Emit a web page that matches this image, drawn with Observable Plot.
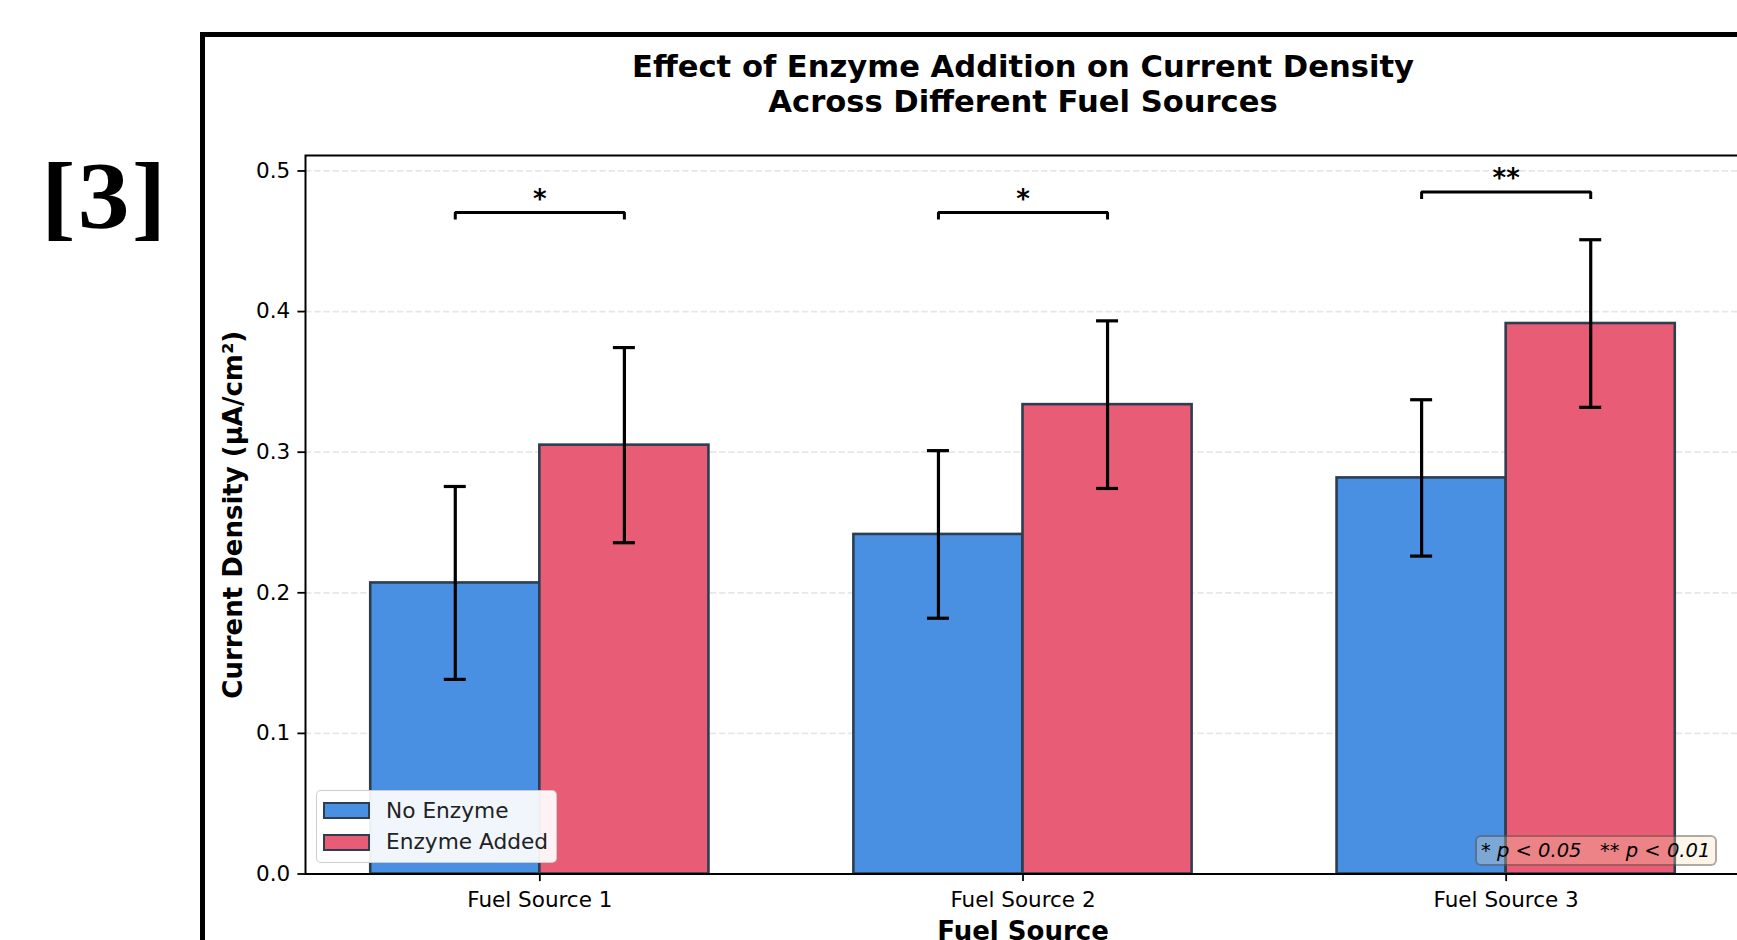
<!DOCTYPE html>
<html>
<head>
<meta charset="utf-8">
<script src="https://cdn.jsdelivr.net/npm/d3@7"></script>
<script src="https://cdn.jsdelivr.net/npm/@observablehq/plot@0.6"></script>
<style>
  html, body { margin: 0; padding: 0; background: #fff; overflow: hidden; width: 1737px; height: 940px; }
  #wrap { position: relative; width: 1737px; height: 940px; overflow: hidden; font-family: "DejaVu Sans", sans-serif; }
  #chart { position: absolute; left: 0; top: 0; }
  #outer { position: absolute; left: 200px; top: 32px; width: 2400px; height: 2400px; border: 5px solid #000; box-sizing: border-box; }
  #panel { position: absolute; left: 41px; top: 148px; font: bold 96px/1 "Liberation Serif", serif; letter-spacing: 2px; color: #000;
           transform: scaleX(1.08); transform-origin: 0 0; }
  #legend { position: absolute; left: 316px; top: 790px; width: 241px; height: 73px; box-sizing: border-box;
            background: rgba(255,255,255,0.92); border: 1.5px solid rgba(200,200,200,0.9); border-radius: 5px; }
  .sw { position: absolute; left: 6px; width: 47px; height: 17px; box-sizing: border-box; border: 2.6px solid #2C3E50; }
  .lb { position: absolute; left: 69px; font-size: 21.7px; line-height: 1; color: #222; white-space: nowrap; }
  #pbox { position: absolute; left: 1475px; top: 835px; width: 242px; height: 31px; box-sizing: border-box;
          background: rgba(245,222,179,0.3); border: 2px solid rgba(0,0,0,0.3); border-radius: 6px;
          font-style: italic; font-size: 19.5px; line-height: 27px; padding-left: 4px; white-space: pre; color: #000; }
</style>
</head>
<body>
<div id="wrap">
  <div id="chart"></div>
  <div id="outer"></div>
  <div id="panel">[3]</div>
  <div id="legend"></div>
  <div id="pbox"></div>
</div>
<script>
// ---- data ----
const categories = ["Fuel Source 1", "Fuel Source 2", "Fuel Source 3"];
const seriesNames = ["No Enzyme", "Enzyme Added"];
const seriesColors = ["#4A90E2", "#E85D75"];
const noEnzyme = [0.207, 0.2415, 0.2817];
const noEnzymeErr = [0.0686, 0.0596, 0.0556];
const enzymeAdded = [0.305, 0.3338, 0.3915];
const enzymeAddedErr = [0.0694, 0.0596, 0.0596];
const sigLabels = ["*", "*", "**"];
const sigHeights = [0.4705, 0.4705, 0.485];
const yTicks = [0.0, 0.1, 0.2, 0.3, 0.4, 0.5];
const titleText = "Effect of Enzyme Addition on Current Density\nAcross Different Fuel Sources";
const xLabel = "Fuel Source";
const yLabel = "Current Density (μA/cm²)";
const pText = "* p < 0.05   ** p < 0.01";

// ---- layout constants ----
const barWidth = 0.35;
const sigDrop = 0.005;

// ---- build tables ----
const rows = [];
categories.forEach((c, i) => {
  rows.push({cat: c, idx: i, series: seriesNames[0], value: noEnzyme[i], err: noEnzymeErr[i], x1: i - barWidth, x2: i});
  rows.push({cat: c, idx: i, series: seriesNames[1], value: enzymeAdded[i], err: enzymeAddedErr[i], x1: i, x2: i + barWidth});
});
rows.forEach(r => { r.xc = (r.x1 + r.x2) / 2; r.lo = r.value - r.err; r.hi = r.value + r.err; });

const brackets = [];
const sigRows = [];
categories.forEach((c, i) => {
  const h = sigHeights[i], a = i - barWidth / 2, b = i + barWidth / 2;
  brackets.push({g: i, x: a, y: h - sigDrop}, {g: i, x: a, y: h}, {g: i, x: b, y: h}, {g: i, x: b, y: h - sigDrop});
  sigRows.push({idx: i, h, label: sigLabels[i]});
});

const capStyle = {stroke: "#000", strokeWidth: 3.2, insetLeft: -11, insetRight: -11};

const chart = Plot.plot({
  width: 1745,
  height: 940,
  marginLeft: 305,
  marginRight: 5,
  marginTop: 155,
  marginBottom: 66.5,
  style: {fontFamily: '"DejaVu Sans", sans-serif', background: "transparent", maxWidth: "none", overflow: "visible", color: "#000"},
  x: {domain: [-0.485, 2.485]},
  y: {domain: [0, 0.511]},
  color: {domain: seriesNames, range: seriesColors},
  marks: [
    Plot.gridY(yTicks, {stroke: "#b0b0b0", strokeOpacity: 0.3, strokeWidth: 1.7, strokeDasharray: "6.4,2.8"}),
    Plot.rectY(rows, {x1: "x1", x2: "x2", y1: 0, y2: "value", fill: "series", stroke: "#2C3E50", strokeWidth: 2.6}),
    Plot.ruleX(rows, {x: "xc", y1: "lo", y2: "hi", stroke: "#000", strokeWidth: 3.2}),
    Plot.ruleY(rows, {x1: "xc", x2: "xc", y: "hi", ...capStyle}),
    Plot.ruleY(rows, {x1: "xc", x2: "xc", y: "lo", ...capStyle}),
    Plot.line(brackets, {x: "x", y: "y", z: "g", stroke: "#000", strokeWidth: 3, strokeLinejoin: "miter", strokeLinecap: "butt"}),
    Plot.text(sigRows, {x: "idx", y: "h", text: "label", dy: -13, fontSize: 26, fontWeight: "bold", lineAnchor: "middle"}),
    Plot.frame({stroke: "#000", strokeWidth: 2}),
    Plot.axisY(yTicks, {tickFormat: d3.format(".1f"), fontSize: 21.5, tickSize: 7.6, tickPadding: 7.6, strokeWidth: 1.8, label: null}),
    Plot.axisX([0, 1, 2], {tickFormat: i => categories[i], fontSize: 21.5, tickSize: 7.6, tickPadding: 10, strokeWidth: 1.8, label: null}),
    Plot.text([yLabel], {frameAnchor: "left", textAnchor: "middle", rotate: -90, dx: -72, fontSize: 26, fontWeight: "bold", lineAnchor: "middle"}),
    Plot.text([xLabel], {frameAnchor: "bottom", lineAnchor: "top", dy: 47.5, fontSize: 26, fontWeight: "bold"}),
    Plot.text([titleText], {frameAnchor: "top", lineAnchor: "top", dy: -103, fontSize: 30.6, fontWeight: "bold", lineHeight: 1.135})
  ]
});
document.getElementById("chart").appendChild(chart);

// ---- legend (HTML overlay) ----
const legend = document.getElementById("legend");
seriesNames.forEach((name, k) => {
  const sw = document.createElement("div");
  sw.className = "sw";
  sw.style.top = (11 + k * 31.5) + "px";
  sw.style.background = seriesColors[k];
  legend.appendChild(sw);
  const lb = document.createElement("div");
  lb.className = "lb";
  lb.style.top = (8.5 + k * 31.5) + "px";
  lb.textContent = name;
  legend.appendChild(lb);
});
document.getElementById("pbox").textContent = pText;
</script>
</body>
</html>
